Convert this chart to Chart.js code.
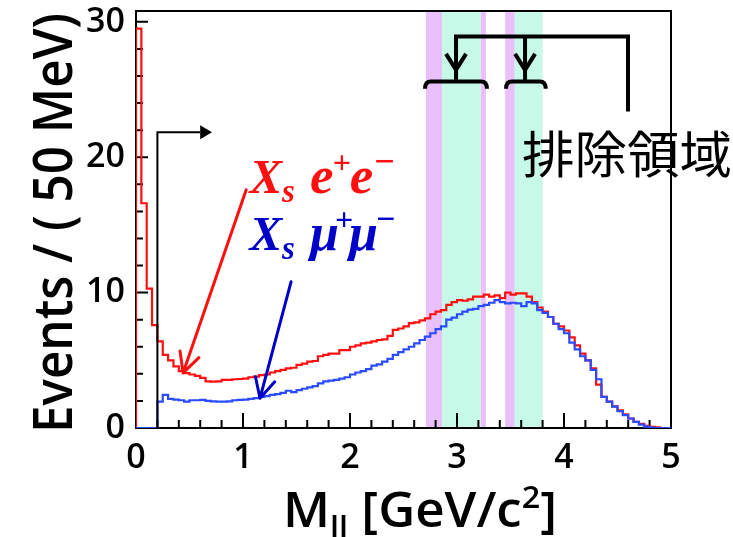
<!DOCTYPE html>
<html>
<head>
<meta charset="utf-8">
<script src="https://cdn.jsdelivr.net/npm/chart.js@4.4.1/dist/chart.umd.min.js"></script>
<style>
  html, body { margin: 0; padding: 0; background: #ffffff; }
  #wrap { width: 733px; height: 537px; }
</style>
</head>
<body>
<div id="wrap"><canvas id="c" width="733" height="537"></canvas></div>
<script>
// Dilepton invariant mass spectra, 50 MeV/c^2 bins from 0 to 5 GeV/c^2
const BIN_WIDTH = 0.05;

const eeCounts = [
  29.5, 16.6, 10.3, 7.6, 6.4, 5.4, 5.0, 4.55, 4.2, 4.05,
  3.95, 3.85, 3.7, 3.45, 3.42, 3.45, 3.55, 3.55, 3.6, 3.62,
  3.65, 3.75, 3.8, 3.9, 3.95, 4.1, 4.2, 4.3, 4.4, 4.45,
  4.66, 4.75, 4.9, 4.95, 5.3, 5.4, 5.5, 5.5, 5.75, 5.75,
  6.0, 6.1, 6.25, 6.3, 6.4, 6.5, 6.55, 6.8, 7.25, 7.35,
  7.5, 7.75, 7.8, 7.95, 8.1, 8.4, 8.6, 8.7, 9.1, 9.3,
  9.45, 9.4, 9.5, 9.7, 9.7, 9.85, 9.7, 9.8, 9.6, 10.0,
  9.85, 9.95, 9.95, 9.7, 9.3, 8.9, 8.6, 8.2, 7.7, 7.5,
  7.2, 6.7, 6.1, 5.5, 5.0, 4.4, 3.2, 2.3, 1.95, 1.6,
  1.3, 1.0, 0.7, 0.45, 0.3, 0.15, 0.08, 0.05, 0, 0
];

const mumuCounts = [
  0, 0, 0, 0, 1.95, 2.45, 2.15, 2.1, 2.05, 1.95,
  2.05, 2.05, 2.07, 2.0, 1.97, 1.95, 1.95, 1.97, 2.05, 2.07,
  2.1, 2.15, 2.2, 2.3, 2.35, 2.45, 2.5, 2.6, 2.75, 2.65,
  2.8, 2.9, 3.0, 3.1, 3.3, 3.45, 3.5, 3.55, 3.65, 3.75,
  3.95, 4.1, 4.2, 4.35, 4.6, 4.7, 4.9, 5.1, 5.4, 5.6,
  5.8, 6.0, 6.25, 6.5, 6.75, 7.0, 7.3, 7.5, 8.0, 8.15,
  8.4, 8.6, 8.75, 8.8, 9.0, 9.1, 9.25, 9.45, 9.3, 9.2,
  9.25, 9.2, 9.0, 9.3, 9.2, 8.7, 8.5, 8.2, 7.7, 7.3,
  7.0, 6.3, 5.8, 5.3, 5.0, 4.3, 3.6, 2.3, 1.95, 1.58,
  1.25, 0.95, 0.7, 0.45, 0.25, 0.1, 0.03, 0, 0, 0
];

const xTickLabels = ['0', '1', '2', '3', '4', '5'];
const yTickLabels = ['0', '10', '20', '30'];

// Charmonium veto windows [low, high] in GeV/c^2
const vetoWide = [[2.71, 2.86], [3.22, 3.27], [3.45, 3.54]];
const vetoCore = [[2.86, 3.22], [3.54, 3.80]];

const CUT_LOW = 0.2; // lower mass cut for the muon sample

// Histogram outline: one point per left bin edge plus the closing edge;
// each value is held until the next edge.
function histPoints(counts) {
  const pts = [{ x: 0, y: 0 }];
  counts.forEach((v, i) => pts.push({ x: +(i * BIN_WIDTH).toFixed(4), y: v }));
  pts.push({ x: +(counts.length * BIN_WIDTH).toFixed(4), y: counts[counts.length - 1] });
  return pts;
}

const RED = '#ff1010';
const BLUE_LINE = '#2a4bff';
const BLUE_TEXT = '#0000c8';
const BAND_PURPLE = '#e9c0fa';
const BAND_GREEN = '#c6f9e8';
const SANS = '"Open Sans", "Noto Sans", sans-serif';
const SERIF = '"Liberation Serif", "Times New Roman", serif';

function isMultiple(v, step) {
  const r = v / step;
  return Math.abs(r - Math.round(r)) < 1e-6;
}

// Draws a run of text pieces (with sub/superscripts) starting at x, baseline y
function drawRuns(ctx, runs, x, y, style, color) {
  ctx.fillStyle = color;
  ctx.textAlign = 'left';
  ctx.textBaseline = 'alphabetic';
  let cx = x;
  runs.forEach(r => {
    ctx.font = `${style} ${r.size}px ${r.family || SERIF}`;
    cx += (r.dx || 0);
    ctx.fillText(r.t, cx, y + (r.dy || 0));
    cx += ctx.measureText(r.t).width;
  });
  return cx;
}

function runsWidth(ctx, runs, style) {
  let w = 0;
  runs.forEach(r => {
    ctx.font = `${style} ${r.size}px ${r.family || SERIF}`;
    w += ctx.measureText(r.t).width + (r.dx || 0);
  });
  return w;
}

function arrowLine(ctx, x1, y1, x2, y2, head, half, color, width) {
  ctx.strokeStyle = color;
  ctx.lineWidth = width;
  ctx.lineCap = 'round';
  ctx.lineJoin = 'round';
  ctx.beginPath();
  ctx.moveTo(x1, y1);
  ctx.lineTo(x2, y2);
  const ang = Math.atan2(y1 - y2, x1 - x2);
  ctx.moveTo(x2 + head * Math.cos(ang - half), y2 + head * Math.sin(ang - half));
  ctx.lineTo(x2, y2);
  ctx.lineTo(x2 + head * Math.cos(ang + half), y2 + head * Math.sin(ang + half));
  ctx.stroke();
}

const framePlugin = {
  id: 'frameAndBands',
  beforeDatasetsDraw(chart) {
    const { ctx, chartArea: a, scales: { x, y } } = chart;
    ctx.save();
    // veto bands
    const band = (lo, hi, color) => {
      const x1 = x.getPixelForValue(lo), x2 = x.getPixelForValue(hi);
      ctx.fillStyle = color;
      ctx.fillRect(x1, a.top, x2 - x1, a.bottom - a.top);
    };
    vetoWide.forEach(b => band(b[0], b[1], BAND_PURPLE));
    vetoCore.forEach(b => band(b[0], b[1], BAND_GREEN));

    // frame
    ctx.strokeStyle = '#000';
    ctx.lineWidth = 2;
    ctx.strokeRect(a.left, a.top, a.right - a.left, a.bottom - a.top);

    // inward tick marks
    ctx.lineWidth = 2;
    ctx.beginPath();
    x.ticks.forEach(t => {
      if (!isMultiple(t.value, 0.2) || t.value > x.max + 1e-9) return;
      const px = x.getPixelForValue(t.value);
      const len = isMultiple(t.value, 1) ? 15 : 8;
      ctx.moveTo(px, a.bottom);
      ctx.lineTo(px, a.bottom - len);
    });
    y.ticks.forEach(t => {
      if (!isMultiple(t.value, 2) || t.value > y.max + 1e-9) return;
      const py = y.getPixelForValue(t.value);
      const len = isMultiple(t.value, 10) ? 12 : 7;
      ctx.moveTo(a.left, py);
      ctx.lineTo(a.left + len, py);
    });
    ctx.stroke();
    ctx.restore();
  },
  afterDraw(chart) {
    const { ctx, scales: { x, y } } = chart;
    const X = v => x.getPixelForValue(v);
    const Y = v => y.getPixelForValue(v);
    ctx.save();

    // lower mass cut marker
    ctx.strokeStyle = '#000';
    ctx.lineWidth = 2;
    ctx.lineCap = 'butt';
    ctx.beginPath();
    ctx.moveTo(X(CUT_LOW), Y(0));
    ctx.lineTo(X(CUT_LOW), Y(21.85));
    ctx.lineTo(X(0.6), Y(21.85));
    ctx.stroke();
    ctx.fillStyle = '#000';
    ctx.beginPath();
    ctx.moveTo(X(0.71), Y(21.85));
    ctx.lineTo(X(0.6), Y(21.85) - 7);
    ctx.lineTo(X(0.6), Y(21.85) + 7);
    ctx.closePath();
    ctx.fill();

    // veto region brackets and pointers
    ctx.lineWidth = 4;
    ctx.lineCap = 'butt';
    ctx.lineJoin = 'miter';
    ctx.beginPath();
    ctx.moveTo(X(2.991), Y(25.59));
    ctx.lineTo(X(2.991), Y(28.91));
    ctx.lineTo(X(4.598), Y(28.91));
    ctx.lineTo(X(4.598), Y(23.37));
    ctx.moveTo(X(3.636), Y(28.91));
    ctx.lineTo(X(3.636), Y(25.59));
    ctx.stroke();
    [2.991, 3.636].forEach(v => {
      const tx = X(v), ty = Y(26.45);
      ctx.beginPath();
      ctx.moveTo(tx - 10, ty - 16);
      ctx.lineTo(tx, ty);
      ctx.lineTo(tx + 10, ty - 16);
      ctx.stroke();
    });
    const bracket = (lo, hi) => {
      const x1 = X(lo), x2 = X(hi), yt = Y(25.59), yb = Y(25.05);
      ctx.beginPath();
      ctx.moveTo(x1, yb);
      ctx.quadraticCurveTo(x1, yt, x1 + 6, yt);
      ctx.lineTo(x2 - 6, yt);
      ctx.quadraticCurveTo(x2, yt, x2, yb);
      ctx.stroke();
    };
    bracket(2.701, 3.280);
    bracket(3.458, 3.829);

    // region label
    ctx.fillStyle = '#000';
    ctx.textBaseline = 'alphabetic';
    ctx.textAlign = 'left';
    ctx.font = '50px "Noto Sans CJK JP"';
    const lbl = '排除領域';
    const lw = ctx.measureText(lbl).width;
    ctx.save();
    ctx.translate(X(3.626) - 2, Y(18.84));
    ctx.scale(210 / lw, 1);
    ctx.fillText(lbl, 0, 0);
    ctx.restore();

    // sample labels with pointer arrows
    const eeRuns = [
      { t: 'X', size: 49 },
      { t: 's', size: 33, dy: 9 },
      { t: 'e', size: 53, dx: 15 },
      { t: '+', size: 32, dy: -20, dx: -1 },
      { t: 'e', size: 53, dx: -1 },
      { t: '\u2212', size: 36, dy: -20 }
    ];
    drawRuns(ctx, eeRuns, X(1.06), Y(17.36), 'italic bold', RED);
    arrowLine(ctx, X(1.03), Y(17.6), X(0.44), Y(4.07), 22, 0.47, RED, 3);

    const mmRuns = [
      { t: 'X', size: 49 },
      { t: 's', size: 33, dy: 9 },
      { t: '\u03bc', size: 52, dx: 15 },
      { t: '+', size: 32, dy: -20, dx: -4 },
      { t: '\u03bc', size: 52, dx: -4 },
      { t: '\u2212', size: 34, dy: -20, dx: -3 }
    ];
    drawRuns(ctx, mmRuns, X(1.06), Y(13.15), 'italic bold', BLUE_TEXT);
    arrowLine(ctx, X(1.449), Y(10.8), X(1.159), Y(2.2), 22, 0.47, BLUE_TEXT, 3);

    // axis titles
    ctx.fillStyle = '#000';
    ctx.font = `600 55px ${SANS}`;
    const yt = 'Events / ( 50 MeV)';
    const yw = ctx.measureText(yt).width;
    ctx.save();
    ctx.translate(72, 223);
    ctx.rotate(-Math.PI / 2);
    ctx.scale(420 / yw, 1);
    ctx.textAlign = 'center';
    ctx.fillText(yt, 0, 0);
    ctx.restore();

    const xRuns = [
      { t: 'M', size: 49, family: SANS },
      { t: 'll', size: 31, dy: 11, family: SANS },
      { t: ' [GeV/c', size: 49, family: SANS },
      { t: '2', size: 31, dy: -19, family: SANS },
      { t: ']', size: 49, family: SANS }
    ];
    const xw = runsWidth(ctx, xRuns, '600');
    ctx.save();
    ctx.translate(283, 527);
    ctx.scale(274 / xw, 1);
    drawRuns(ctx, xRuns, 0, 0, '600', '#000');
    ctx.restore();

    ctx.restore();
  }
};

new Chart(document.getElementById('c'), {
  type: 'line',
  data: {
    datasets: [
      {
        label: 'Xs mu+ mu-',
        data: histPoints(mumuCounts),
        borderColor: BLUE_LINE,
        borderWidth: 2.2,
        pointRadius: 0,
        fill: false,
        stepped: 'before'
      },
      {
        label: 'Xs e+ e-',
        data: histPoints(eeCounts),
        borderColor: RED,
        borderWidth: 2.2,
        pointRadius: 0,
        fill: false,
        stepped: 'before'
      }
    ]
  },
  options: {
    responsive: false,
    animation: false,
    devicePixelRatio: 1,
    events: [],
    layout: { padding: { top: 11, right: 62, left: 0, bottom: 0 } },
    plugins: { legend: { display: false }, tooltip: { enabled: false }, title: { display: false } },
    scales: {
      x: {
        type: 'linear',
        min: 0,
        max: 5,
        bounds: 'data',
        grid: { display: false, drawTicks: false },
        border: { display: false },
        afterFit: s => {
          s.height = 109;
          s.paddingLeft = 0;
          s.paddingRight = 0;
        },
        ticks: {
          stepSize: 0.2,
          autoSkip: false,
          maxRotation: 0,
          includeBounds: false,
          padding: 10,
          color: '#000',
          font: { family: SANS, size: 34, weight: '600' },
          callback: v => {
            const lbl = String(Math.round(v));
            return isMultiple(v, 1) && xTickLabels.includes(lbl) ? lbl : '';
          }
        }
      },
      y: {
        type: 'linear',
        min: 0,
        max: 30.8,
        bounds: 'data',
        grid: { display: false, drawTicks: false },
        border: { display: false },
        afterFit: s => {
          s.width = 136;
          s.paddingTop = 0;
          s.paddingBottom = 0;
        },
        ticks: {
          stepSize: 2,
          autoSkip: false,
          includeBounds: false,
          padding: 11,
          color: '#000',
          font: { family: SANS, size: 34, weight: '600' },
          callback: v => {
            const lbl = String(Math.round(v));
            return isMultiple(v, 10) && yTickLabels.includes(lbl) ? lbl : '';
          }
        }
      }
    }
  },
  plugins: [framePlugin]
});
</script>
</body>
</html>
